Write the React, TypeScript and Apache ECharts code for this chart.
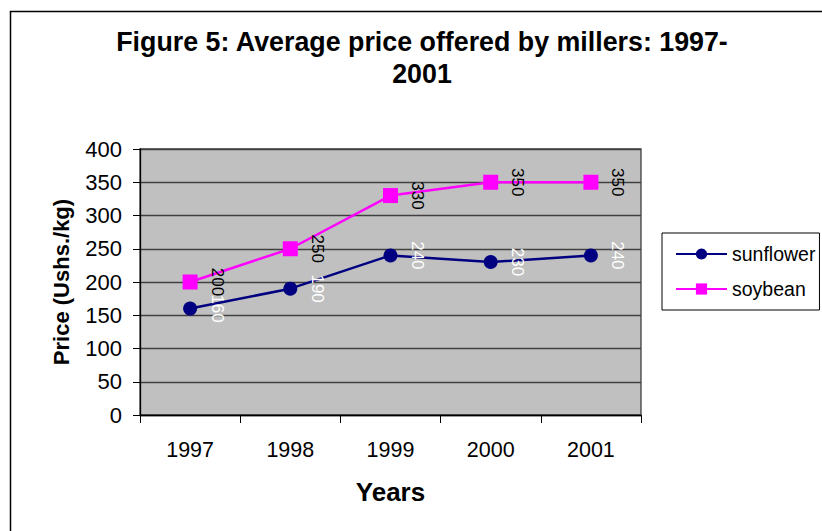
import React, { useEffect, useRef } from "react";
import * as echarts from "echarts";

const years = ["1997", "1998", "1999", "2000", "2001"];
const sunflower = [160, 190, 240, 230, 240];
const soybean = [200, 250, 330, 350, 350];
const titleLines = ["Figure 5: Average price offered by millers: 1997-", "2001"];

const FONT = "'Liberation Sans', Arial, sans-serif";

export default function App() {
  const ref = useRef<HTMLDivElement>(null);
  useEffect(() => {
    if (!ref.current) return;
    const chart = echarts.init(ref.current, null, { renderer: "svg" });
    chart.setOption({
      animation: false,
      backgroundColor: "#ffffff",
      textStyle: { fontFamily: FONT },
      graphic: [
        {
          type: "rect",
          shape: { x: 10.5, y: 11.5, width: 1000, height: 1000 },
          style: { fill: "none", stroke: "#000", lineWidth: 1.5 },
          silent: true,
          z: 0,
        },
        {
          type: "text",
          x: 422,
          y: 42,
          style: {
            text: titleLines[0],
            font: `bold 26.8px ${FONT}`,
            fill: "#000",
            textAlign: "center",
            textVerticalAlign: "middle",
          },
        },
        {
          type: "text",
          x: 422,
          y: 74,
          style: {
            text: titleLines[1],
            font: `bold 26.8px ${FONT}`,
            fill: "#000",
            textAlign: "center",
            textVerticalAlign: "middle",
          },
        },
      ],
      grid: {
        left: 140,
        top: 149,
        width: 501,
        height: 266,
        show: true,
        backgroundColor: "#c0c0c0",
        borderColor: "#404040",
        borderWidth: 1.3,
      },
      legend: {
        orient: "vertical",
        left: 662,
        top: 233,
        itemWidth: 51,
        itemHeight: 14,
        itemGap: 15,
        padding: [11, 4, 11, 13],
        borderColor: "#000",
        borderWidth: 1,
        textStyle: { fontSize: 19.5, color: "#000", fontFamily: FONT },
        data: ["sunflower", "soybean"],
      },
      xAxis: {
        type: "category",
        data: years,
        boundaryGap: true,
        name: "Years",
        nameLocation: "middle",
        nameGap: 64,
        nameTextStyle: { fontSize: 26, fontWeight: "bold", color: "#000", fontFamily: FONT },
        axisLine: { lineStyle: { color: "#000", width: 1.3 } },
        axisTick: { show: true, length: 8, lineStyle: { color: "#000" }, alignWithLabel: false },
        axisLabel: { fontSize: 21.5, color: "#000", margin: 24, fontFamily: FONT },
        splitLine: { show: false },
      },
      yAxis: {
        type: "value",
        min: 0,
        max: 400,
        interval: 50,
        name: "Price (Ushs./kg)",
        nameLocation: "middle",
        nameGap: 68,
        nameTextStyle: { fontSize: 22, fontWeight: "bold", color: "#000", fontFamily: FONT },
        axisLine: { show: true, lineStyle: { color: "#000", width: 1.3 } },
        axisTick: { show: true, length: 7, lineStyle: { color: "#000" } },
        axisLabel: { fontSize: 22, color: "#000", margin: 18, fontFamily: FONT },
        splitLine: { show: true, lineStyle: { color: "#404040", width: 1.3 } },
      },
      series: [
        {
          name: "sunflower",
          type: "line",
          data: sunflower,
          symbol: "circle",
          symbolSize: 14,
          itemStyle: { color: "#000080" },
          lineStyle: { color: "#000080", width: 2.5 },
          label: {
            show: true,
            position: [34, 7],
            rotate: -90,
            align: "center",
            verticalAlign: "middle",
            color: "#ffffff",
            fontSize: 17,
            fontFamily: FONT,
          },
        },
        {
          name: "soybean",
          type: "line",
          data: soybean,
          symbol: "rect",
          symbolSize: 15,
          itemStyle: { color: "#ff00ff" },
          lineStyle: { color: "#ff00ff", width: 2.5 },
          label: {
            show: true,
            position: [34.5, 7.5],
            rotate: -90,
            align: "center",
            verticalAlign: "middle",
            color: "#000000",
            fontSize: 17,
            fontFamily: FONT,
          },
        },
      ],
    });
    return () => chart.dispose();
  }, []);
  return (
    <div
      ref={ref}
      style={{ position: "fixed", left: 0, top: 0, width: 822, height: 531 }}
    />
  );
}
